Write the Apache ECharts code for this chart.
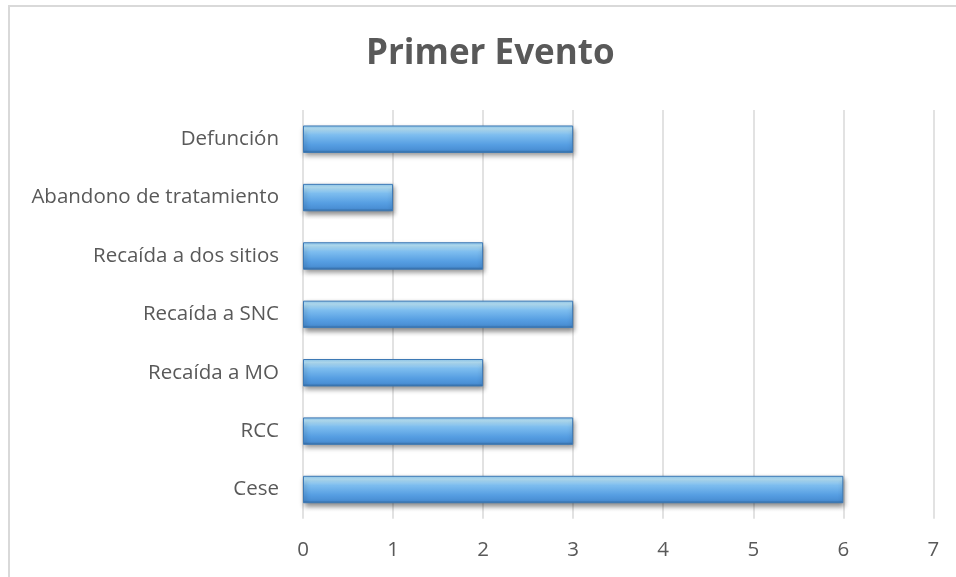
<!DOCTYPE html>
<html>
<head>
<meta charset="utf-8">
<script src="https://cdn.jsdelivr.net/npm/echarts@6/dist/echarts.min.js"></script>
<style>
html,body{margin:0;padding:0;background:#fff;}
#chart{width:956px;height:577px;}
</style>
</head>
<body>
<div id="chart"></div>
<script>
var categories = ['Cese', 'RCC', 'Recaída a MO', 'Recaída a SNC', 'Recaída a dos sitios', 'Abandono de tratamiento', 'Defunción'];
var values = [6, 3, 2, 3, 2, 1, 3];
var xTicks = [0, 1, 2, 3, 4, 5, 6, 7];
var titleText = 'Primer Evento';

var chart = echarts.init(document.getElementById('chart'), null, {renderer: 'canvas'});
var barGradient = new echarts.graphic.LinearGradient(0, 0, 0, 1, [
  {offset: 0, color: '#8cc8f2'},
  {offset: 0.12, color: '#b9e6fc'},
  {offset: 0.35, color: '#7dbdef'},
  {offset: 0.7, color: '#569ee2'},
  {offset: 0.9, color: '#4a8fd4'},
  {offset: 1, color: '#2f659c'}
]);
chart.setOption({
  animation: false,
  backgroundColor: '#ffffff',
  title: {
    text: titleText,
    left: 361,
    top: 32,
    textStyle: {fontFamily: 'Open Sans', fontWeight: 'bold', fontSize: 35, color: '#595959'}
  },
  graphic: [{
    type: 'polyline',
    shape: {points: [[9, 577], [9, 6], [956, 6]]},
    style: {stroke: '#d9d9d9', lineWidth: 2, fill: null},
    silent: true
  }],
  grid: {left: 303, right: 22.6, top: 110, bottom: 58.3, containLabel: false},
  xAxis: {
    type: 'value',
    min: xTicks[0],
    max: xTicks[xTicks.length - 1],
    interval: 1,
    axisLine: {show: false},
    axisTick: {show: false},
    splitLine: {show: true, lineStyle: {color: '#d9d9d9', width: 1.5}},
    axisLabel: {color: '#595959', fontFamily: 'Open Sans', fontSize: 20.5, margin: 21}
  },
  yAxis: {
    type: 'category',
    data: categories,
    axisLine: {show: false},
    axisTick: {show: false},
    axisLabel: {color: '#595959', fontFamily: 'Open Sans', fontSize: 20.5, margin: 24}
  },
  series: [{
    type: 'bar',
    data: values,
    barWidth: '47%',
    itemStyle: {
      color: barGradient,
      borderColor: '#3d79b5',
      borderWidth: 1,
      shadowColor: 'rgba(0,0,0,0.45)',
      shadowBlur: 5,
      shadowOffsetY: 3,
      shadowOffsetX: 1
    }
  }]
});
</script>
</body>
</html>
